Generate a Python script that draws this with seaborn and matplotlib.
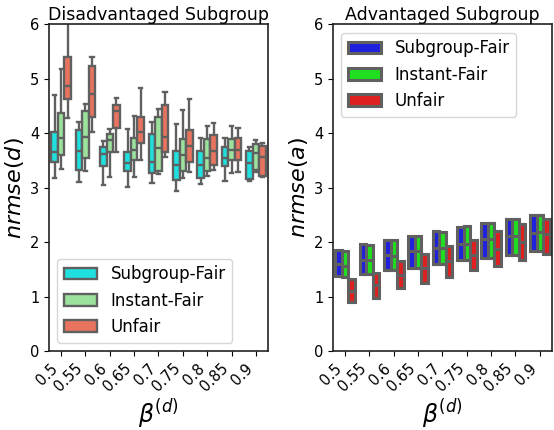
import numpy as np
import pandas as pd
import matplotlib
matplotlib.use("Agg")
import matplotlib.pyplot as plt
import seaborn as sns

betas = ["0.5", "0.55", "0.6", "0.65", "0.7", "0.75", "0.8", "0.85", "0.9"]
methods = ["Subgroup-Fair", "Instant-Fair", "Unfair"]

# Disadvantaged subgroup: box stats per beta (lo, q1, med, q3, hi)
dis_sub_lo  = [3.17, 3.10, 3.04, 3.02, 3.08, 2.94, 3.07, 3.13, 3.13]
dis_sub_q1  = [3.47, 3.33, 3.40, 3.30, 3.27, 3.14, 3.18, 3.40, 3.15]
dis_sub_med = [3.65, 3.67, 3.62, 3.45, 3.48, 3.42, 3.42, 3.54, 3.46]
dis_sub_q3  = [4.03, 4.06, 3.74, 3.66, 3.98, 3.67, 3.68, 3.74, 3.68]
dis_sub_hi  = [4.70, 4.21, 3.85, 4.08, 4.20, 4.16, 3.91, 3.91, 3.74]

dis_ins_lo  = [3.34, 3.30, 3.20, 3.20, 3.25, 3.18, 3.22, 3.27, 3.28]
dis_ins_q1  = [3.60, 3.54, 3.65, 3.50, 3.30, 3.31, 3.31, 3.50, 3.32]
dis_ins_med = [3.91, 3.93, 3.87, 3.70, 3.72, 3.60, 3.54, 3.70, 3.64]
dis_ins_q3  = [4.38, 4.40, 3.99, 3.92, 4.30, 3.89, 3.90, 3.90, 3.80]
dis_ins_hi  = [5.17, 4.54, 4.08, 4.32, 4.45, 4.42, 4.13, 4.13, 3.88]

dis_unf_lo  = [4.28, 4.03, 3.65, 3.50, 3.57, 3.28, 3.32, 3.28, 3.20]
dis_unf_q1  = [4.63, 4.29, 4.09, 3.82, 3.65, 3.47, 3.41, 3.51, 3.22]
dis_unf_med = [4.86, 4.72, 4.40, 4.02, 3.93, 3.76, 3.68, 3.70, 3.56]
dis_unf_q3  = [5.40, 5.24, 4.52, 4.30, 4.51, 4.05, 3.96, 3.91, 3.76]
dis_unf_hi  = [6.05, 5.40, 4.64, 4.83, 4.76, 4.62, 4.19, 4.10, 3.82]

# Advantaged subgroup: box stats per beta (q1, med, q3)
adv_sub_q1  = [1.37, 1.42, 1.48, 1.53, 1.59, 1.67, 1.71, 1.76, 1.84]
adv_sub_med = [1.60, 1.68, 1.76, 1.83, 1.90, 1.97, 2.05, 2.11, 2.17]
adv_sub_q3  = [1.86, 1.97, 2.03, 2.11, 2.20, 2.28, 2.35, 2.42, 2.50]

adv_ins_q1  = [1.35, 1.42, 1.49, 1.53, 1.59, 1.68, 1.71, 1.76, 1.84]
adv_ins_med = [1.57, 1.68, 1.75, 1.83, 1.90, 1.97, 2.05, 2.11, 2.19]
adv_ins_q3  = [1.84, 1.94, 2.03, 2.11, 2.19, 2.29, 2.35, 2.42, 2.50]

adv_unf_q1  = [0.90, 0.98, 1.16, 1.25, 1.36, 1.48, 1.57, 1.67, 1.79]
adv_unf_med = [1.10, 1.22, 1.40, 1.53, 1.65, 1.76, 1.88, 2.00, 2.14]
adv_unf_q3  = [1.32, 1.43, 1.65, 1.79, 1.93, 2.03, 2.20, 2.34, 2.43]


def build(stats):
    rows = []
    for m, (lo, q1, med, q3, hi) in zip(methods, stats):
        for i, b in enumerate(betas):
            for v in (lo[i], q1[i], med[i], q3[i], hi[i]):
                rows.append({"beta": b, "method": m, "value": v})
    return pd.DataFrame(rows)


df_dis = build([
    (dis_sub_lo, dis_sub_q1, dis_sub_med, dis_sub_q3, dis_sub_hi),
    (dis_ins_lo, dis_ins_q1, dis_ins_med, dis_ins_q3, dis_ins_hi),
    (dis_unf_lo, dis_unf_q1, dis_unf_med, dis_unf_q3, dis_unf_hi),
])
df_adv = build([
    (adv_sub_q1, adv_sub_q1, adv_sub_med, adv_sub_q3, adv_sub_q3),
    (adv_ins_q1, adv_ins_q1, adv_ins_med, adv_ins_q3, adv_ins_q3),
    (adv_unf_q1, adv_unf_q1, adv_unf_med, adv_unf_q3, adv_unf_q3),
])

fig = plt.figure(figsize=(5.54, 4.30), dpi=100)
ax1 = fig.add_axes([0.0884, 0.1837, 0.3954, 0.7598])
ax2 = fig.add_axes([0.6010, 0.1837, 0.3954, 0.7598])

line_c = "#606060"
sns.boxplot(data=df_dis, x="beta", y="value", hue="method", order=betas,
            hue_order=methods, palette=["cyan", "lightgreen", "tomato"],
            whis=(0, 100), showfliers=False, linecolor=line_c, linewidth=1.7,
            saturation=0.75, ax=ax1)
sns.boxplot(data=df_adv, x="beta", y="value", hue="method", order=betas,
            hue_order=methods, palette=["blue", "lime", "red"],
            whis=(0, 100), showfliers=False, linecolor=line_c, linewidth=2.2,
            saturation=0.75, ax=ax2)

for ax, title, ylab, loc in [(ax1, "Disadvantaged Subgroup", r"$nrmse(d)$", "lower left"),
                             (ax2, "Advantaged Subgroup", r"$nrmse(a)$", "upper left")]:
    ax.set_ylim(0, 6)
    ax.set_yticks(range(0, 7))
    ax.set_title(title, fontsize=12.5, pad=2)
    ax.set_ylabel(ylab, fontsize=16, labelpad=3)
    ax.set_xlabel(r"$\beta^{(d)}$", fontsize=17, labelpad=2)
    ax.tick_params(axis="both", labelsize=10.5)
    plt.setp(ax.get_xticklabels(), rotation=45, ha="right")
    ax.legend(loc=loc, fontsize=12, title=None, handlelength=2.0)
    for s in ax.spines.values():
        s.set_color("#222222")
        s.set_linewidth(1.2)

fig.savefig("out.png", dpi=100)
